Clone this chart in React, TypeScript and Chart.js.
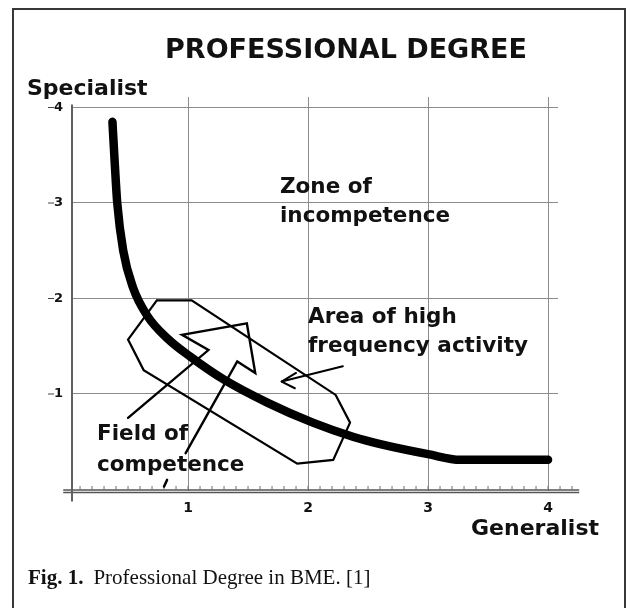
import React, { useEffect, useRef } from "react";
import { Chart, registerables } from "chart.js";

Chart.register(...registerables);

// Tick labels
const xTickValues = [1, 2, 3, 4];
const yTickValues = [1, 2, 3, 4];

// Main thick curve (professional degree)
const curveX = [0.37, 0.39, 0.41, 0.46, 0.54, 0.66, 0.83, 1.02, 1.3, 1.66, 2.04, 2.38, 2.62, 3.0, 3.27, 3.6, 4.0];
const curveY = [3.85, 3.4, 3.0, 2.5, 2.12, 1.82, 1.58, 1.39, 1.15, 0.91, 0.7, 0.55, 0.47, 0.37, 0.31, 0.31, 0.31];

// Area of high frequency activity (outline)
const areaX = [0.74, 1.03, 2.23, 2.35, 2.21, 1.91, 0.63, 0.5, 0.74];
const areaY = [1.98, 1.98, 0.99, 0.7, 0.31, 0.27, 1.25, 1.57, 1.98];

// Hollow arrow pointing from "Field of competence"
const fieldArrowX = [0.5, 1.17, 0.95, 1.49, 1.56, 1.41, 0.98];
const fieldArrowY = [0.75, 1.46, 1.62, 1.74, 1.22, 1.34, 0.38];

// Pointer from "Area of high frequency activity"
const pointerX = [2.29, 1.78];
const pointerY = [1.29, 1.13];
const pointerHeadX = [1.9, 1.78, 1.89];
const pointerHeadY = [1.22, 1.13, 1.06];

// Small stray mark near the axis
const markX = [0.8, 0.825];
const markY = [0.03, 0.1];

const toPts = (xs: number[], ys: number[]) => xs.map((x, i) => ({ x, y: ys[i] }));

const BOLD = "bold 22px 'DejaVu Sans'";

const decorPlugin = {
  id: "decor",
  beforeDatasetsDraw(chart: any) {
    const { ctx, scales } = chart;
    const xs = scales.x;
    const ys = scales.y;
    const y0 = ys.getPixelForValue(0);
    const x0 = chart.chartArea.left;
    ctx.save();
    // x axis: double line with minor ticks
    ctx.strokeStyle = "#555";
    ctx.lineWidth = 1.5;
    const xa = xs.getPixelForValue(-0.04);
    const xb = xs.getPixelForValue(4.26);
    ctx.beginPath();
    ctx.moveTo(xa, y0 + 0.5);
    ctx.lineTo(xb, y0 + 0.5);
    ctx.moveTo(xa, y0 + 3);
    ctx.lineTo(xb, y0 + 3);
    ctx.stroke();
    ctx.lineWidth = 1;
    ctx.strokeStyle = "#707070";
    ctx.beginPath();
    for (let i = 1; i <= 42; i++) {
      const px = xs.getPixelForValue(i / 10);
      ctx.moveTo(px, y0 + 0.5);
      ctx.lineTo(px, y0 - 3.5);
    }
    ctx.stroke();
    // y axis
    ctx.strokeStyle = "#606060";
    ctx.lineWidth = 2;
    ctx.beginPath();
    ctx.moveTo(x0, ys.getPixelForValue(4) - 3);
    ctx.lineTo(x0, y0 + 12);
    ctx.stroke();
    // dashes left of y labels
    ctx.strokeStyle = "#444";
    ctx.lineWidth = 1.2;
    ctx.beginPath();
    yTickValues.forEach((v) => {
      const py = ys.getPixelForValue(v);
      ctx.moveTo(x0 - 24, py);
      ctx.lineTo(x0 - 18, py);
    });
    ctx.stroke();
    ctx.restore();
  },
  afterDraw(chart: any) {
    const { ctx } = chart;
    ctx.save();
    ctx.fillStyle = "#111";
    ctx.textBaseline = "alphabetic";
    // title
    ctx.font = "bold 27px 'DejaVu Sans'";
    ctx.textAlign = "center";
    ctx.fillText("PROFESSIONAL DEGREE", 346, 58);
    // axis names
    ctx.font = BOLD;
    ctx.textAlign = "left";
    ctx.fillText("Specialist", 27, 95);
    ctx.textAlign = "right";
    ctx.fillText("Generalist", 599, 535);
    // annotations
    ctx.textAlign = "left";
    ctx.font = "bold 21.5px 'DejaVu Sans'";
    ctx.fillText("Zone of", 280, 193);
    ctx.fillText("incompetence", 280, 222);
    ctx.fillText("Area of high", 308, 323);
    ctx.fillText("frequency activity", 308, 352);
    ctx.fillText("Field of", 97, 440);
    ctx.fillText("competence", 97, 471);
    // caption
    ctx.font = "bold 21px 'Liberation Serif'";
    ctx.fillText("Fig. 1.", 28, 584);
    const w = ctx.measureText("Fig. 1.").width;
    ctx.font = "21px 'Liberation Serif'";
    ctx.fillText("Professional Degree in BME. [1]", 28 + w + 10, 584);
    ctx.restore();
  },
};

export default function App() {
  const ref = useRef<HTMLCanvasElement>(null);
  useEffect(() => {
    const canvas = ref.current!;
    const lineDs = (data: any[], width: number, extra: any = {}) => ({
      data,
      showLine: true,
      borderColor: "#000",
      backgroundColor: "#000",
      borderWidth: width,
      pointRadius: 0,
      tension: 0,
      fill: false,
      borderJoinStyle: "round",
      borderCapStyle: "round",
      ...extra,
    });
    const chart = new Chart(canvas, {
      type: "scatter",
      data: {
        datasets: [
          lineDs(toPts(curveX, curveY), 8.5, { cubicInterpolationMode: "monotone" }),
          lineDs(toPts(areaX, areaY), 2.2, { borderJoinStyle: "miter" }),
          lineDs(toPts(fieldArrowX, fieldArrowY), 2.4, { borderJoinStyle: "miter" }),
          lineDs(toPts(pointerX, pointerY), 2),
          lineDs(toPts(pointerHeadX, pointerHeadY), 2),
          lineDs(toPts(markX, markY), 2.5),
        ] as any,
      },
      plugins: [decorPlugin],
      options: {
        animation: false,
        responsive: false,
        maintainAspectRatio: false,
        devicePixelRatio: 1,
        layout: { padding: { left: 32, right: 69, top: 97, bottom: 77 } },
        plugins: { legend: { display: false }, tooltip: { enabled: false }, title: { display: false } },
        scales: {
          x: {
            type: "linear",
            min: 0.033,
            max: 4.083,
            afterFit: (s: any) => {
              s.height = 40;
            },
            afterBuildTicks: (s: any) => {
              s.ticks = xTickValues.map((v) => ({ value: v }));
            },
            grid: { color: "#8c8c8c", lineWidth: 1, drawTicks: false },
            border: { display: false },
            ticks: {
              padding: 9,
              color: "#111",
              font: { family: "DejaVu Sans", weight: "bold", size: 14 },
            },
          },
          y: {
            type: "linear",
            min: -0.016,
            max: 4.11,
            afterFit: (s: any) => {
              s.width = 40;
            },
            afterBuildTicks: (s: any) => {
              s.ticks = yTickValues.map((v) => ({ value: v }));
            },
            grid: { color: "#8c8c8c", lineWidth: 1, drawTicks: false },
            border: { display: false },
            ticks: {
              padding: 9,
              color: "#111",
              font: { family: "DejaVu Sans", weight: "bold", size: 13 },
            },
          },
        },
      } as any,
    });
    return () => chart.destroy();
  }, []);
  return (
    <div style={{ position: "absolute", left: 0, top: 0, width: 627, height: 608, overflow: "hidden", background: "#fff" }}>
      <div
        style={{
          position: "absolute",
          left: 12,
          top: 8,
          width: 614,
          height: 700,
          border: "2.5px solid #383838",
          boxSizing: "border-box",
        }}
      />
      <canvas ref={ref} width={627} height={608} style={{ position: "absolute", left: 0, top: 0, width: 627, height: 608 }} />
    </div>
  );
}
